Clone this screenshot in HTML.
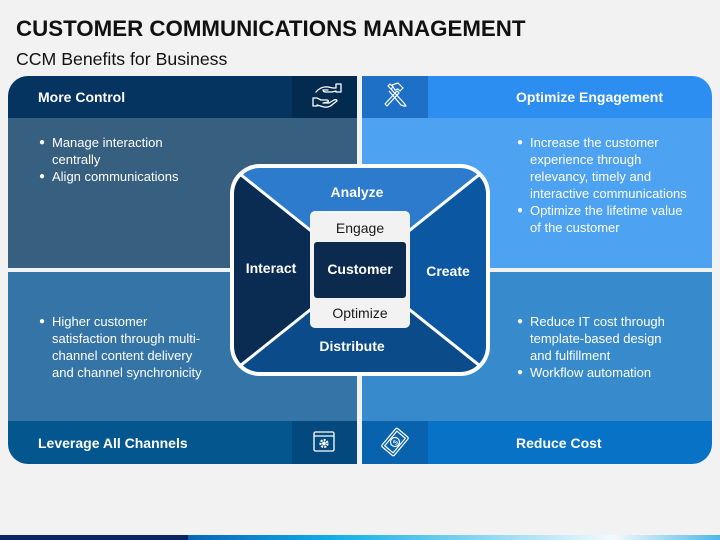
<!DOCTYPE html>
<html>
<head>
<meta charset="utf-8">
<style>
  html, body { margin:0; padding:0; }
  body { width:720px; height:540px; background:#f2f2f2; position:relative; overflow:hidden;
         font-family:"Liberation Sans", Arial, sans-serif; }
  .abs { position:absolute; }
  .title { left:16px; top:18px; font-size:22.3px; line-height:22.3px; font-weight:bold; color:#111; white-space:nowrap; }
  .sub { left:16px; top:51px; font-size:17.7px; line-height:17.7px; color:#111; white-space:nowrap; }
  .hdr { color:#fff; font-weight:bold; font-size:14px; display:flex; align-items:center; white-space:nowrap; }
  .txt { color:#fff; font-size:13px; line-height:17px; white-space:nowrap; }
  .txt .li { position:relative; padding-left:0; }
  .bul { position:absolute; font-size:10px; }
</style>
</head>
<body>
<div class="abs title">CUSTOMER COMMUNICATIONS MANAGEMENT</div>
<div class="abs sub">CCM Benefits for Business</div>

<!-- Top-left -->
<div class="abs hdr" style="left:8px;top:76px;width:349px;height:42px;background:#053461;border-top-left-radius:20px;"><span style="margin-left:30px;">More Control</span></div>
<div class="abs" style="left:292px;top:76px;width:65px;height:42px;background:#032a4f;"></div>
<div class="abs" style="left:8px;top:118px;width:349px;height:150px;background:#375f7f;"></div>

<!-- Top-right -->
<div class="abs hdr" style="left:362px;top:76px;width:350px;height:42px;background:#2b8ef0;border-top-right-radius:20px;"><span style="margin-left:154px;">Optimize Engagement</span></div>
<div class="abs" style="left:362px;top:76px;width:66px;height:42px;background:#1e6fc6;"></div>
<div class="abs" style="left:362px;top:118px;width:350px;height:150px;background:#4ea2f2;"></div>

<!-- Bottom-left -->
<div class="abs" style="left:8px;top:272px;width:349px;height:149px;background:#3474a7;"></div>
<div class="abs hdr" style="left:8px;top:421px;width:349px;height:43px;background:#04568f;border-bottom-left-radius:20px;"><span style="margin-left:30px;">Leverage All Channels</span></div>
<div class="abs" style="left:292px;top:421px;width:65px;height:43px;background:#03497d;"></div>

<!-- Bottom-right -->
<div class="abs" style="left:362px;top:272px;width:350px;height:149px;background:#378bcd;"></div>
<div class="abs hdr" style="left:362px;top:421px;width:350px;height:43px;background:#0873c6;border-bottom-right-radius:20px;"><span style="margin-left:154px;">Reduce Cost</span></div>
<div class="abs" style="left:362px;top:421px;width:66px;height:43px;background:#0862ad;"></div>

<!-- Bullet texts -->
<div class="abs txt" style="left:52px;top:134px;">
  <div class="li"><span class="bul" style="left:-13px;">&#9679;</span>Manage interaction</div>
  <div>centrally</div>
  <div class="li"><span class="bul" style="left:-13px;">&#9679;</span>Align communications</div>
</div>
<div class="abs txt" style="left:530px;top:134px;">
  <div class="li"><span class="bul" style="left:-13px;">&#9679;</span>Increase the customer</div>
  <div>experience through</div>
  <div>relevancy, timely and</div>
  <div>interactive communications</div>
  <div class="li"><span class="bul" style="left:-13px;">&#9679;</span>Optimize the lifetime value</div>
  <div>of the customer</div>
</div>
<div class="abs txt" style="left:52px;top:313px;">
  <div class="li"><span class="bul" style="left:-13px;">&#9679;</span>Higher customer</div>
  <div>satisfaction through multi-</div>
  <div>channel content delivery</div>
  <div>and channel synchronicity</div>
</div>
<div class="abs txt" style="left:530px;top:313px;">
  <div class="li"><span class="bul" style="left:-13px;">&#9679;</span>Reduce IT cost through</div>
  <div>template-based design</div>
  <div>and fulfillment</div>
  <div class="li"><span class="bul" style="left:-13px;">&#9679;</span>Workflow automation</div>
</div>

<!-- Center diagram + icons -->
<svg class="abs" style="left:0;top:0;" width="720" height="540" viewBox="0 0 720 540">
  <defs>
    <clipPath id="rr"><rect x="232" y="166" width="256" height="208" rx="28" ry="28"/></clipPath>
    <linearGradient id="bar" x1="0" y1="0" x2="1" y2="0">
      <stop offset="0" stop-color="#0a63b8"/>
      <stop offset="0.27" stop-color="#10aee6"/>
      <stop offset="0.55" stop-color="#88d6f2"/>
      <stop offset="0.80" stop-color="#f4fafd"/>
      <stop offset="1" stop-color="#4cb8e8"/>
    </linearGradient>
  </defs>
  <g clip-path="url(#rr)">
    <polygon points="360,270 120.4,78.4 599.6,78.4" fill="#2c7bcd"/>
    <polygon points="360,270 599.6,78.4 599.6,461.6" fill="#0b57a2"/>
    <polygon points="360,270 599.6,461.6 120.4,461.6" fill="#0c4b8a"/>
    <polygon points="360,270 120.4,461.6 120.4,78.4" fill="#0a2c53"/>
    <line x1="360" y1="270" x2="120.4" y2="78.4" stroke="#fff" stroke-width="3"/>
    <line x1="360" y1="270" x2="599.6" y2="78.4" stroke="#fff" stroke-width="3"/>
    <line x1="360" y1="270" x2="599.6" y2="461.6" stroke="#fff" stroke-width="3"/>
    <line x1="360" y1="270" x2="120.4" y2="461.6" stroke="#fff" stroke-width="3"/>
  </g>
  <rect x="232" y="166" width="256" height="208" rx="28" ry="28" fill="none" stroke="#fff" stroke-width="4"/>
  <rect x="310" y="211" width="100" height="117" rx="5" fill="#f2f2f2"/>
  <rect x="314" y="242" width="92" height="56" rx="3" fill="#0c2a4e"/>

  <g font-family="Liberation Sans, Arial, sans-serif" font-size="14" text-anchor="middle">
    <text x="357" y="197" fill="#fff" font-weight="bold">Analyze</text>
    <text x="271" y="273" fill="#fff" font-weight="bold">Interact</text>
    <text x="448" y="276" fill="#fff" font-weight="bold">Create</text>
    <text x="352" y="351" fill="#fff" font-weight="bold">Distribute</text>
    <text x="360" y="233" fill="#1a1a1a">Engage</text>
    <text x="360" y="274" fill="#fff" font-weight="bold">Customer</text>
    <text x="360" y="318" fill="#1a1a1a">Optimize</text>
  </g>

  <!-- icon: hands -->
  <g fill="none" stroke="#fff" stroke-width="1.3" stroke-linejoin="round" stroke-linecap="round">
    <path d="M316 92 q5 -6 12 -5 l5 1 h3 v-4 h5 v8 h-5 v-1 l-4 1 h-6 q-3 0 -3 -2 l5 0"/>
    <path d="M313 98 v8 h4 v-1 l7 2 q5 1 9 -3 l4 -3 q0 -2 -3 -1 l-5 3 h-6 l5 -1 q1 -2 -1 -2 h-6 l-4 -2 h-4"/>
  </g>
  <!-- icon: tools -->
  <g fill="none" stroke="#fff" stroke-width="1.2" stroke-linejoin="round">
    <path d="M387 106 l-2 -2 l12 -13 l2 2 z"/>
    <path d="M392 85 l6 -2 l5 5 l-3 3 l-2 -2 l-3 1 z"/>
    <path d="M388 86 l2 -2 l3 3 l-2 2 z"/>
    <path d="M391 89 l13 14 l2 3 l-2 0 l-3 -1 l-12 -14"/>
  </g>
  <!-- icon: gear window -->
  <g fill="none" stroke="#fff" stroke-width="1.3">
    <rect x="314" y="432" width="20" height="19" rx="1.5"/>
    <line x1="314" y1="436" x2="334" y2="436"/>
    <circle cx="324" cy="443.5" r="3.5" stroke-width="2.2" stroke-dasharray="2 1.2"/>
    <circle cx="324" cy="443.5" r="1.2" fill="#fff"/>
  </g>
  <!-- icon: money -->
  <g fill="none" stroke="#fff" stroke-width="1.2" transform="rotate(-50 395 442)">
    <rect x="383" y="434" width="24" height="16" rx="1.5"/>
    <rect x="385.5" y="436.5" width="19" height="11"/>
    <circle cx="395" cy="442" r="4.5"/>
    <text x="395" y="445" font-size="7" fill="#fff" stroke="none" text-anchor="middle" font-family="Liberation Sans, sans-serif">$</text>
  </g>

  <!-- bottom bar -->
  <rect x="0" y="535" width="188" height="5" fill="#0b2562"/>
  <rect x="188" y="535" width="532" height="5" fill="url(#bar)"/>
</svg>
</body>
</html>
